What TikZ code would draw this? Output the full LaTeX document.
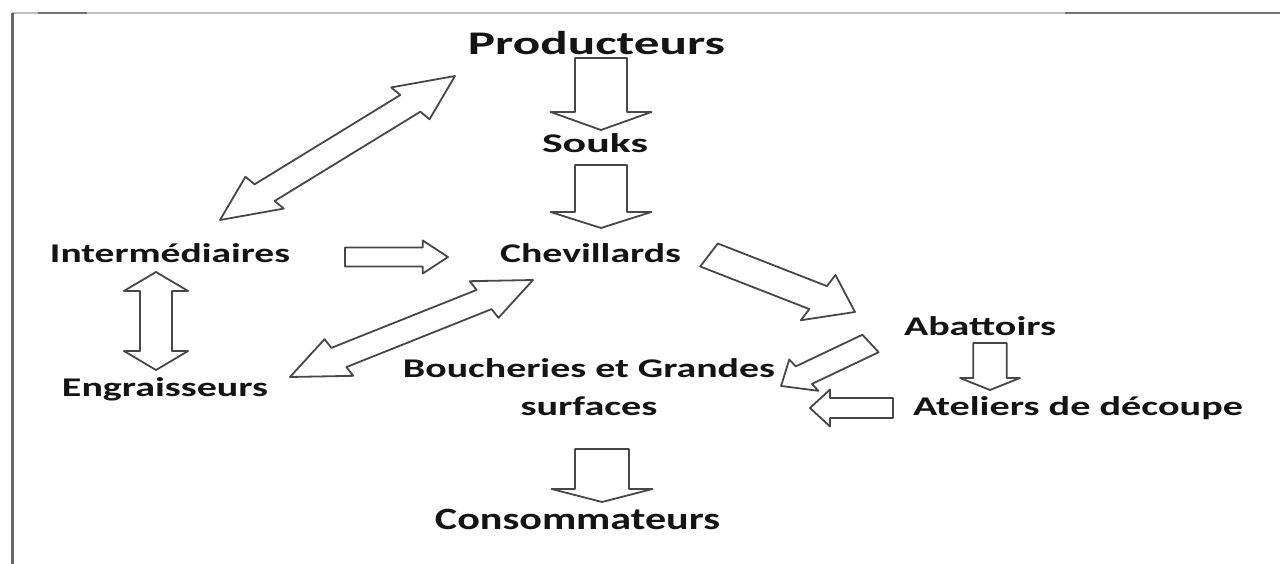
\documentclass[tikz,border=0pt]{standalone}
\usepackage{fontspec}
\setmainfont{Carlito}
\usepackage{graphicx}
\newdimen\bxa \newdimen\bya \newdimen\bxb \newdimen\byb
\def\sk{1.4}
\tikzset{
  barrow/.style={draw=black!72, line width=1.8pt, fill=white, line join=round},
  lbl/.style={inner sep=0pt, anchor=base, text=black!92, font=\bfseries},
}
\newcommand\lbl[3]{{\fontsize{#1}{#1}\selectfont\bfseries\resizebox{#2pt}{\height}{#3}}}
% #1 from, #2 to, #3 shaft half width, #4 head half width, #5 head length, #6 double (1) or single (0)
\newcommand\blockarrow[6]{%
  \pgfextractx{\bxa}{\pgfpointanchor{#1}{center}}%
  \pgfextracty{\bya}{\pgfpointanchor{#1}{center}}%
  \pgfextractx{\bxb}{\pgfpointanchor{#2}{center}}%
  \pgfextracty{\byb}{\pgfpointanchor{#2}{center}}%
  \pgfmathsetmacro\baX{\bxa/\sk}%
  \pgfmathsetmacro\baY{\bya}%
  \pgfmathsetmacro\bbX{\bxb/\sk}%
  \pgfmathsetmacro\bbY{\byb}%
  \pgfmathsetmacro\bAng{atan2(\bbY-\baY,\bbX-\baX)}%
  \pgfmathsetmacro\bLen{veclen(\bbX-\baX,\bbY-\baY)}%
  \pgfmathsetmacro\bHb{\bLen-#5}%
  \begin{scope}[xscale=\sk,shift={(\baX pt,\baY pt)},rotate=\bAng]
  \ifnum#6=1
   \draw[barrow] (0pt,0pt) -- (#5pt,#4pt) -- (#5pt,#3pt) -- (\bHb pt,#3pt) -- (\bHb pt,#4pt) -- (\bLen pt,0pt) -- (\bHb pt,-#4pt) -- (\bHb pt,-#3pt) -- (#5pt,-#3pt) -- (#5pt,-#4pt) -- cycle;
  \else
   \draw[barrow] (0pt,#3pt) -- (\bHb pt,#3pt) -- (\bHb pt,#4pt) -- (\bLen pt,0pt) -- (\bHb pt,-#4pt) -- (\bHb pt,-#3pt) -- (0pt,-#3pt) -- cycle;
  \fi
  \end{scope}}
\begin{document}
\begin{tikzpicture}[x=1pt,y=-1pt]
\useasboundingbox[fill=white] (0,0) rectangle (1280,564);
% frame
\coordinate (fTL) at (12,13);
\coordinate (fTR) at (1280,13);
\coordinate (fBL) at (12,564);
\draw[black!25, line width=2.5pt] (fTL) -- (fTR);
\coordinate (fd1) at (38,13); \coordinate (fd2) at (87,13);
\coordinate (fd3) at (1065,13);
\draw[black!55, line width=2.5pt] (fd1) -- (fd2);
\draw[black!55, line width=2.5pt] (fd3) -- (fTR);
\draw[black!60, line width=3pt] (fTL) -- (fBL);

% arrow end points
\coordinate (a1s) at (601,58);   \coordinate (a1e) at (601,130);
\coordinate (a2s) at (601,165);  \coordinate (a2e) at (601,228);
\coordinate (a3s) at (345,257);  \coordinate (a3e) at (448,257);
\coordinate (a4s) at (602,449);  \coordinate (a4e) at (602,502);
\coordinate (a5s) at (990,343);  \coordinate (a5e) at (990,390);
\coordinate (a6s) at (156,272);  \coordinate (a6e) at (156,370);
\coordinate (a7s) at (893,408);  \coordinate (a7e) at (810,408);
\coordinate (a8s) at (870.5,343.5); \coordinate (a8e) at (781,386);
\coordinate (a9s) at (709,255);  \coordinate (a9e) at (855,312);
\coordinate (a10s) at (220,220); \coordinate (a10e) at (455,76);
\coordinate (a11s) at (290,377); \coordinate (a11e) at (533,280);

\blockarrow{a1s}{a1e}{18.6}{36}{18}{0}
\blockarrow{a2s}{a2e}{18.6}{36}{16}{0}
\blockarrow{a3s}{a3e}{9.5}{16.5}{18}{0}
\blockarrow{a4s}{a4e}{19.3}{36}{13}{0}
\blockarrow{a5s}{a5e}{12}{21.4}{12}{0}
\blockarrow{a6s}{a6e}{11.4}{22.9}{19}{1}
\blockarrow{a7s}{a7e}{10}{18.5}{14.3}{0}
\blockarrow{a8s}{a8e}{10.5}{18.8}{19.5}{0}
\blockarrow{a9s}{a9e}{13.1}{25.8}{30}{0}
\blockarrow{a10s}{a10e}{11}{21}{42}{1}
\blockarrow{a11s}{a11e}{11}{21}{40}{1}

% labels
\node[lbl] (prod) at (596.5,55) {\lbl{33}{257}{Producteurs}};
\node[lbl] (souks) at (595,153) {\lbl{27}{106}{Souks}};
\node[lbl] (chev) at (590.5,262) {\lbl{27}{181}{Chevillards}};
\node[lbl] (inter) at (170,262) {\lbl{27}{240}{Intermédiaires}};
\node[lbl] (engr) at (165,396) {\lbl{27}{206}{Engraisseurs}};
\node[lbl] (abat) at (980,335) {\lbl{27}{152}{Abattoirs}};
\node[lbl] (atel) at (1078,415) {\lbl{27}{330}{Ateliers de découpe}};
\node[lbl, align=center, font=\fontsize{27}{38}\selectfont] (bouch) at (589,415)
  {\lbl{27}{372}{Boucheries et Grandes}\\\lbl{27}{137}{surfaces}};
\node[lbl] (cons) at (577.5,529) {\lbl{31}{285}{Consommateurs}};
\end{tikzpicture}
\end{document}
